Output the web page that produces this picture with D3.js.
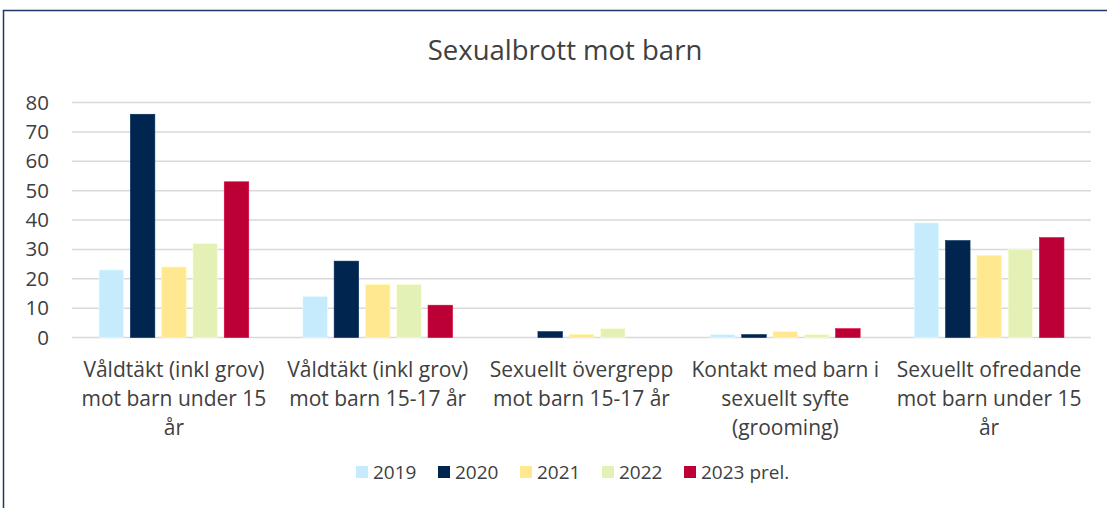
<!DOCTYPE html>
<html>
<head>
<meta charset="utf-8">
<script src="https://cdn.jsdelivr.net/npm/d3@7"></script>
<style>
  html, body { margin: 0; padding: 0; background: #fff; }
  svg { display: block; font-family: "Open Sans", "Noto Sans", sans-serif; }
</style>
</head>
<body>
<script>
// kategorier (radbrutna som i originalet)
const categories = [
  ['Våldtäkt (inkl grov)', 'mot barn under 15', 'år'],
  ['Våldtäkt (inkl grov)', 'mot barn 15-17 år'],
  ['Sexuellt övergrepp', 'mot barn 15-17 år'],
  ['Kontakt med barn i', 'sexuellt syfte', '(grooming)'],
  ['Sexuellt ofredande', 'mot barn under 15', 'år']
];
const years = ['2019', '2020', '2021', '2022', '2023 prel.'];
const values2019 = [23, 14, 0, 1, 39];
const values2020 = [76, 26, 2, 1, 33];
const values2021 = [24, 18, 1, 2, 28];
const values2022 = [32, 18, 3, 1, 30];
const values2023 = [53, 11, 0, 3, 34];
const yTicks = [0, 10, 20, 30, 40, 50, 60, 70, 80];
const colors = ['#C6EBFD', '#00264F', '#FFE88F', '#E3F1B6', '#BC0036'];

const series = [values2019, values2020, values2021, values2022, values2023];

const width = 1107, height = 508;
const plot = {left: 72, right: 1091, top: 102.5, bottom: 337.5};

const svg = d3.select('body').append('svg')
  .attr('width', width)
  .attr('height', height);

// ram runt diagrammet
svg.append('rect')
  .attr('x', 3.5).attr('y', 10.5)
  .attr('width', width + 20).attr('height', height + 20)
  .attr('fill', '#fff')
  .attr('stroke', '#1F3864')
  .attr('stroke-width', 1.5);

svg.append('text')
  .attr('x', 565).attr('y', 60)
  .attr('text-anchor', 'middle')
  .attr('font-size', 27.5)
  .attr('fill', '#404040')
  .text('Sexualbrott mot barn');

const x0 = d3.scaleBand()
  .domain(d3.range(categories.length))
  .range([plot.left, plot.right])
  .padding(0);

const x1 = d3.scaleBand()
  .domain(years)
  .range([0, x0.bandwidth()])
  .paddingInner(0.217)
  .paddingOuter(0.864);

const y = d3.scaleLinear()
  .domain([0, 80])
  .range([plot.bottom, plot.top]);

// stödlinjer
svg.append('g')
  .selectAll('line')
  .data(yTicks)
  .join('line')
  .attr('x1', plot.left).attr('x2', plot.right)
  .attr('y1', d => y(d)).attr('y2', d => y(d))
  .attr('stroke', '#D9D9D9')
  .attr('stroke-width', 1.5);

// y-axel
const yAxis = svg.append('g')
  .attr('transform', `translate(${plot.left - 23},0)`)
  .call(d3.axisLeft(y).tickValues(yTicks).tickSize(0).tickPadding(0));
yAxis.select('.domain').remove();
yAxis.selectAll('text')
  .attr('font-family', '"Open Sans", sans-serif')
  .attr('font-size', 20.5)
  .attr('fill', '#404040');

// staplar
const groups = svg.append('g')
  .selectAll('g')
  .data(categories.map((c, i) => i))
  .join('g')
  .attr('transform', i => `translate(${x0(i)},0)`);

groups.selectAll('rect')
  .data(i => years.map((yr, k) => ({yr, k, v: series[k][i]})))
  .join('rect')
  .attr('x', d => x1(d.yr))
  .attr('width', x1.bandwidth())
  .attr('y', d => y(d.v))
  .attr('height', d => y(0) - y(d.v))
  .attr('fill', d => colors[d.k])
  .attr('stroke', d => d.v > 0 ? d3.color(colors[d.k]).brighter(0.4) : 'none')
  .attr('stroke-width', 0.6);

// kategorietiketter
const labels = svg.append('g')
  .selectAll('text')
  .data(categories)
  .join('text')
  .attr('x', (c, i) => x0(i) + x0.bandwidth() / 2)
  .attr('y', 377)
  .attr('text-anchor', 'middle')
  .attr('font-size', 21)
  .attr('fill', '#404040');
labels.selectAll('tspan')
  .data(c => c)
  .join('tspan')
  .attr('x', function() { return this.parentNode.getAttribute('x'); })
  .attr('dy', (d, i) => i === 0 ? 0 : 29)
  .text(d => d);

// förklaring
const legend = svg.append('g')
  .selectAll('g')
  .data(years)
  .join('g')
  .attr('transform', (d, i) => `translate(${356 + i * 82},466)`);
legend.append('rect')
  .attr('width', 12).attr('height', 12)
  .attr('fill', (d, i) => colors[i]);
legend.append('text')
  .attr('x', 17).attr('y', 12.5)
  .attr('font-size', 19)
  .attr('fill', '#404040')
  .text(d => d);
</script>
</body>
</html>
